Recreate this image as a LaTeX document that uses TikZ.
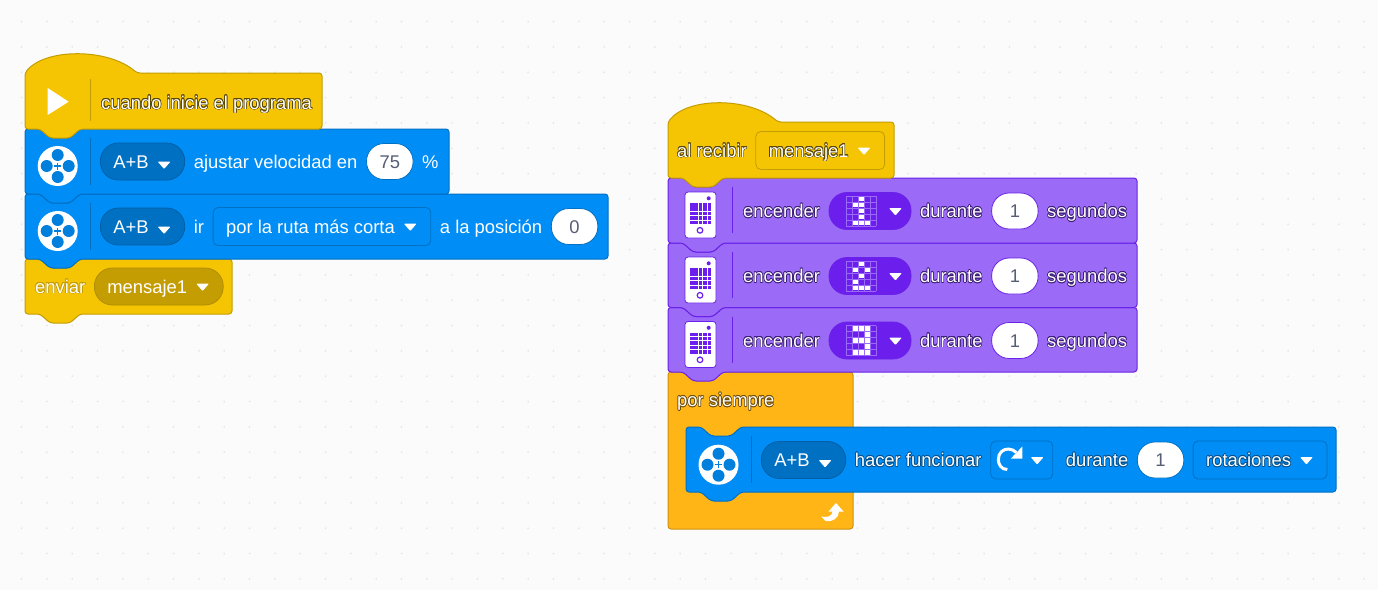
\documentclass[tikz,border=0pt]{standalone}
\usepackage{fontspec}
\setmainfont{Liberation Sans}
\usepackage{xcolor}
\usepackage{contour}
\usepackage{tikz}
\usetikzlibrary{positioning,calc}
\definecolor{canvasbg}{HTML}{FBFBFB}
\definecolor{canvasdot}{HTML}{E6E6E6}
\definecolor{hatyellow}{HTML}{F5C402}
\definecolor{hatline}{HTML}{C49D02}
\definecolor{hathalo}{HTML}{5A4800}
\definecolor{motorblue}{HTML}{008DF5}
\definecolor{motorline}{HTML}{0070C3}
\definecolor{motorhalo}{HTML}{00508C}
\definecolor{lightpurple}{HTML}{9B6AF6}
\definecolor{lightline}{HTML}{6A22E8}
\definecolor{lightpill}{HTML}{6C1EEC}
\definecolor{lighthalo}{HTML}{3C1E78}
\definecolor{loopamber}{HTML}{FFB515}
\definecolor{loopline}{HTML}{CC9110}
\definecolor{loophalo}{HTML}{6E4E08}
\definecolor{numgrey}{HTML}{575E75}
\contourlength{0.6pt}
\contournumber{16}
\newcommand{\hatbody}[6]{\draw[#1,line width=1pt,rounded corners=3pt] (#2,#3) .. controls (#2+20,#3-25) and (#6-29,#3-25) .. (#6,#3) -- (#4,#3) -- (#4,#5) -- (#2+55,#5) -- ++(-10,9) -- ++(-20,0) -- ++(-10,-9) -- (#2,#5) -- cycle;}
\newcommand{\blockbody}[5]{\draw[#1,line width=1pt,rounded corners=3pt] (#2,#3) -- ++(15,0) -- ++(10,9) -- ++(20,0) -- ++(10,-9) -- (#4,#3) -- (#4,#5) -- (#2+55,#5) -- ++(-10,9) -- ++(-20,0) -- ++(-10,-9) -- (#2,#5) -- cycle;}
\newcommand{\ddtri}[2][(0,0)]{\fill[white,rounded corners=1pt] ($(#2.east)+(-27.5,-3)+#1$) -- ++(13,0) -- ++(-6.5,7.5) -- cycle;}
\newcommand{\motoricon}[2]{%
  \fill[white] (#1,#2) circle (20);
  \foreach \dx/\dy in {-11/0,11/0,0/-11,0/11} \fill[motorblue!90!black] (#1+\dx,#2+\dy) circle (6);
  \draw[motorblue!90!black,line width=1.4pt] (#1-3.5,#2) -- (#1+3.5,#2) (#1,#2-3.5) -- (#1,#2+3.5);}
\newcommand{\brickicon}[1]{%
  \draw[lightline,fill=white,line width=0.8pt,rounded corners=3pt] (685,#1+14) rectangle (716,#1+60);
  \foreach \i in {0,...,4} \foreach \j in {0,...,4} \fill[lightpill] (690+\i*4.4,#1+25+\j*4.4) rectangle ++(3.5,3.5);
  \fill[lightpill] (708.7,#1+20.3) circle (2);
  \draw[lightpill,line width=1.2pt] (700,#1+52.3) circle (2.8);}
\newcommand{\ledgrid}[2]{%
  \foreach \i in {0,...,5} {
    \draw[lightpurple,line width=0.7pt] ($(#1.west)+(17.7+\i*6,-15)$) -- ++(0,30);
    \draw[lightpurple,line width=0.7pt] ($(#1.west)+(17.7,-15+\i*6)$) -- ++(30,0);}
  \foreach \c/\r in #2 \fill[white] ($(#1.west)+(18.3+\c*6,-14.4+\r*6)$) rectangle ++(4.8,4.8);}
\tikzset{
  lbl/.style={text=white,font=\fontsize{18.4}{20}\selectfont,inner sep=0pt,text height=15.5pt,text depth=2.5pt},
  pillbox/.style={lbl,rounded corners=18pt,line width=0.8pt,inner xsep=13pt,minimum height=37pt},
  ddbox/.style={lbl,rounded corners=5pt,line width=0.8pt,inner xsep=13pt,minimum height=38pt},
  numbox/.style={lbl,text=numgrey,draw=#1,fill=white,rounded corners=17.5pt,line width=0.8pt,minimum width=46.5pt,minimum height=36pt},
  sep/.style={line width=0.8pt}
}
\newcommand{\ddgap}{\hspace{23pt}\mbox{}}
\begin{document}
\begin{tikzpicture}[x=1pt,y=-1pt]
\useasboundingbox (0,0) rectangle (1378,590);
\fill[canvasbg] (0,0) rectangle (1378,590);
\foreach \i in {0,...,54} \foreach \j in {0,...,23} \fill[canvasdot] (21.6+\i*25.33,21.6+\j*25.33) circle (1);

\blockbody{fill=hatyellow,draw=hatline}{25}{259}{232}{314}
\blockbody{fill=motorblue,draw=motorline}{25}{194}{608}{259}
\blockbody{fill=motorblue,draw=motorline}{25}{129}{449}{194}
\hatbody{fill=hatyellow,draw=hatline}{25}{73}{322}{129}{137}

\draw[fill=loopamber,draw=loopline,line width=1pt,rounded corners=3pt] (668,372) -- (853,372) -- (853,529) -- (668,529) -- cycle;
\blockbody{fill=motorblue,draw=motorline}{686}{427}{1336}{492}
\blockbody{fill=lightpurple,draw=lightline}{668}{307.5}{1137}{372}
\blockbody{fill=lightpurple,draw=lightline}{668}{243}{1137}{307.5}
\blockbody{fill=lightpurple,draw=lightline}{668}{178}{1137}{243}
\hatbody{fill=hatyellow,draw=hatline}{668}{122}{894}{178}{778}

\draw[sep,hatline] (90,79) -- (90,121);
\fill[white] (47.7,88) -- (68.7,101.7) -- (47.7,115) -- cycle;
\node[lbl,anchor=west] (start) at (101,102.5) {\contour{hathalo}{cuando inicie el programa}};

\draw[sep,motorline] (90,138) -- (90,185);
\motoricon{57.7}{166}
\node[pillbox,fill=motorline,draw=motorline!85!black,anchor=west] (portA) at (100,161.5) {A+B\ddgap};
\ddtri[(0,3)]{portA}
\node[lbl,right=8.5pt of portA] (speed) {ajustar velocidad en};
\node[numbox=motorline,right=8.5pt of speed] (speedval) {75};
\node[lbl,right=8.5pt of speedval] (pct) {\%};

\draw[sep,motorline] (90,203) -- (90,250);
\motoricon{57.7}{231}
\node[pillbox,fill=motorline,draw=motorline!85!black,anchor=west] (portB) at (100,226.5) {A+B\ddgap};
\ddtri[(0,3)]{portB}
\node[lbl,right=8.5pt of portB] (go) {ir};
\node[ddbox,draw=motorline,right=8.5pt of go] (route) {por la ruta más corta\ddgap};
\ddtri{route}
\node[lbl,right=8.5pt of route] (topos) {a la posición};
\node[numbox=motorline,right=8.5pt of topos] (posval) {0};

\node[lbl,anchor=west] (send) at (35,286.5) {\contour{hatline}{enviar}};
\node[pillbox,fill=hatline,draw=hatline!90!black,right=8.5pt of send] (sendmsg) {mensaje1\ddgap};
\ddtri{sendmsg}

\node[lbl,anchor=west] (recv) at (677,150.5) {\contour{hathalo}{al recibir}};
\node[ddbox,draw=hatline,right=8.5pt of recv] (recvmsg) {\contour{hathalo}{mensaje1}\ddgap};
\ddtri{recvmsg}

\foreach \n/\y/\p in {1/178/{2/0,1/1,2/1,2/2,2/3,1/4,2/4,3/4},2/243/{2/0,1/1,3/1,2/2,1/3,1/4,2/4,3/4},3/307.5/{1/0,2/0,3/0,3/1,1/2,2/2,3/2,3/3,1/4,2/4,3/4}} {
  \draw[sep,lightline] (732.5,\y+9) -- (732.5,\y+55);
  \brickicon{\y}
  \node[lbl,anchor=west] (enc\n) at (743,\y+33) {\contour{lighthalo}{encender}};
  \node[pillbox,fill=lightpill,draw=lightline,minimum width=82pt,right=8.5pt of enc\n] (led\n) {};
  \ledgrid{led\n}{\p}
  \ddtri[(5,0)]{led\n}
  \node[lbl,right=8.5pt of led\n] (dur\n) {\contour{lighthalo}{durante}};
  \node[numbox=lightline,right=8.5pt of dur\n] (num\n) {1};
  \node[lbl,right=8.5pt of num\n] (sec\n) {\contour{lighthalo}{segundos}};
}

\node[lbl,anchor=west] (forever) at (677,400) {\contour{loophalo}{por siempre}};
\fill[white] (836,503) -- (843.5,511.5) -- (839,511.5) .. controls (839,518) and (832,522.5) .. (825.5,521) -- (821,516.5) .. controls (827,518) and (832.5,516) .. (832.5,511.5) -- (828.5,511.5) -- cycle;

\draw[sep,motorline] (751,436) -- (751,483);
\motoricon{718.5}{464.7}
\node[pillbox,fill=motorline,draw=motorline!85!black,anchor=west] (portC) at (761,460) {A+B\ddgap};
\ddtri[(0,3)]{portC}
\node[lbl,right=8.5pt of portC] (spin) {\contour{motorhalo}{hacer funcionar}};
\node[ddbox,draw=motorline,minimum width=62pt,right=8.5pt of spin] (dirbox) {};
\ddtri[(5,0)]{dirbox}
\begin{scope}[shift={(dirbox.west)}]
\draw[white,line width=3pt] (17,9.5) .. controls (11,9.5) and (8,4.5) .. (8,-0.5) .. controls (8,-7.5) and (13,-11) .. (18,-11) .. controls (21,-11) and (24,-9.5) .. (26,-7.5);
\fill[white] (32,-13.5) -- (32,-1.5) -- (20.5,-1.5) -- cycle;
\end{scope}
\node[lbl,right=12.5pt of dirbox] (forlen) {\contour{motorhalo}{durante}};
\node[numbox=motorline,right=8.5pt of forlen] (lenval) {1};
\node[ddbox,draw=motorline,right=8.5pt of lenval] (unit) {\contour{motorhalo}{rotaciones}\ddgap};
\ddtri{unit}
\end{tikzpicture}
\end{document}
